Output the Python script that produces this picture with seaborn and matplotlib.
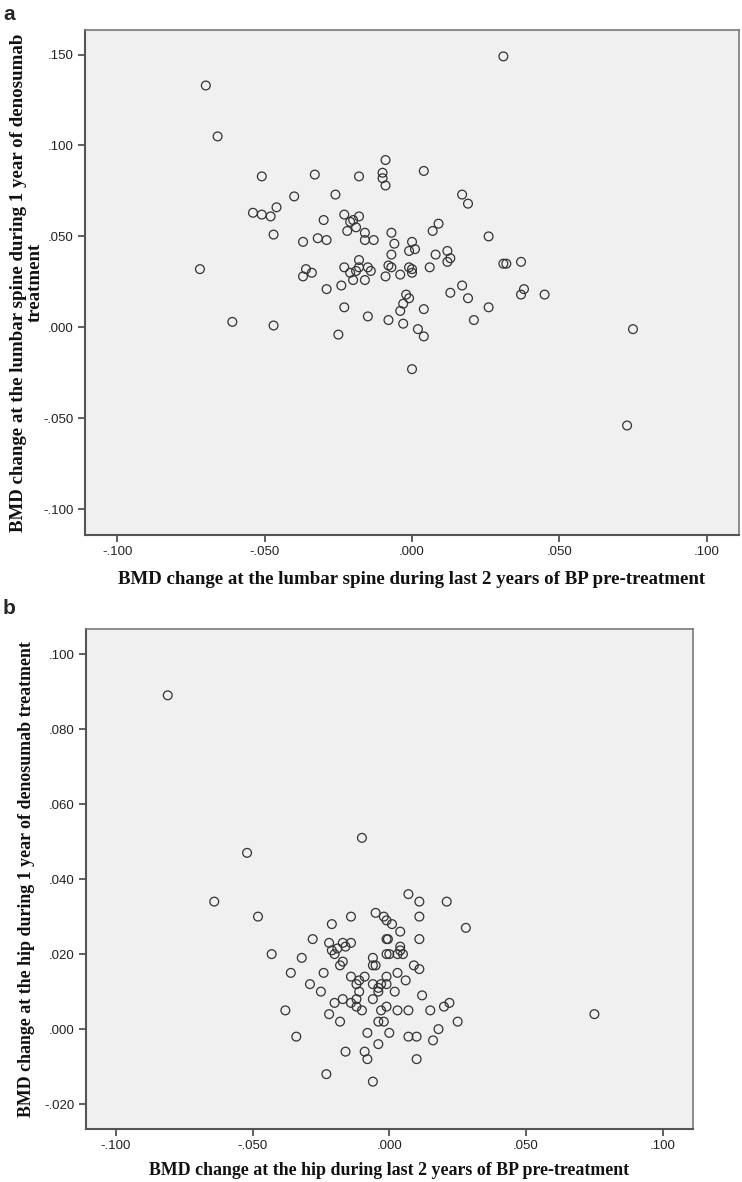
import numpy as np
import pandas as pd
import seaborn as sns
import matplotlib
matplotlib.use("Agg")
import matplotlib.pyplot as plt
from matplotlib.ticker import FuncFormatter, MultipleLocator

# panel a: lumbar spine
spine_prev = [-0.070, -0.066, 0.031, -0.051, -0.033, -0.018, -0.009, -0.010, -0.010, -0.009,
              0.004, -0.040, -0.026, 0.017, 0.019, -0.054, -0.051, -0.048, -0.046, -0.047,
              -0.030, -0.023, -0.021, -0.020, -0.018, -0.022, -0.019, -0.016, -0.016, -0.013,
              -0.037, -0.032, -0.029, -0.007, -0.006, -0.007, 0.000, -0.001, 0.001, 0.009,
              0.007, 0.026, 0.008, 0.012, 0.013, 0.012, -0.018, -0.023, -0.021, -0.019,
              -0.018, -0.015, -0.014, -0.020, -0.016, -0.008, -0.007, -0.009, -0.004, -0.001,
              0.000, 0.000, 0.006, 0.031, 0.032, 0.037, -0.072, -0.036, -0.037, -0.034,
              -0.029, -0.024, -0.002, -0.001, 0.013, 0.017, 0.019, 0.037, 0.038, 0.045,
              -0.061, -0.047, -0.023, -0.015, -0.025, -0.008, -0.003, -0.004, -0.003, 0.004,
              0.002, 0.004, 0.021, 0.026, 0.000, 0.075, 0.073]
spine_deno = [0.133, 0.105, 0.149, 0.083, 0.084, 0.083, 0.092, 0.085, 0.082, 0.078,
              0.086, 0.072, 0.073, 0.073, 0.068, 0.063, 0.062, 0.061, 0.066, 0.051,
              0.059, 0.062, 0.058, 0.059, 0.061, 0.053, 0.055, 0.052, 0.048, 0.048,
              0.047, 0.049, 0.048, 0.052, 0.046, 0.040, 0.047, 0.042, 0.043, 0.057,
              0.053, 0.050, 0.040, 0.042, 0.038, 0.036, 0.037, 0.033, 0.030, 0.031,
              0.033, 0.033, 0.031, 0.026, 0.026, 0.034, 0.033, 0.028, 0.029, 0.033,
              0.032, 0.030, 0.033, 0.035, 0.035, 0.036, 0.032, 0.032, 0.028, 0.030,
              0.021, 0.023, 0.018, 0.016, 0.019, 0.023, 0.016, 0.018, 0.021, 0.018,
              0.003, 0.001, 0.011, 0.006, -0.004, 0.004, 0.002, 0.009, 0.013, 0.010,
              -0.001, -0.005, 0.004, 0.011, -0.023, -0.001, -0.054]

# panel b: hip
hip_prev = [-0.081, -0.052, -0.010, -0.064, -0.048, -0.043, -0.038, -0.036, -0.034, -0.032,
            -0.029, -0.028, -0.025, -0.024, -0.023, -0.022, -0.022, -0.021, -0.020, -0.021,
            -0.020, -0.019, -0.018, -0.018, -0.017, -0.017, -0.017, -0.016, -0.016, -0.014,
            -0.014, -0.014, -0.014, -0.012, -0.012, -0.012, -0.011, -0.011, -0.010, -0.009,
            -0.009, -0.008, -0.008, -0.006, -0.006, -0.006, -0.005, -0.006, -0.005, -0.006,
            -0.004, -0.004, -0.003, -0.003, -0.004, -0.002, -0.004, -0.002, -0.001, -0.001,
            -0.0005, -0.001, 0.000, -0.001, -0.001, -0.001, 0.000, 0.001, 0.002, 0.003,
            0.003, 0.004, 0.004, 0.004, 0.003, 0.005, 0.007, 0.006, 0.007, 0.007,
            0.011, 0.021, 0.011, 0.028, 0.011, 0.009, 0.011, 0.012, 0.015, 0.020,
            0.022, 0.025, 0.018, 0.010, 0.016, 0.010, 0.075]
hip_deno = [0.089, 0.047, 0.051, 0.034, 0.030, 0.020, 0.005, 0.015, -0.002, 0.019,
            0.012, 0.024, 0.010, 0.015, -0.012, 0.023, 0.004, 0.028, 0.007, 0.021,
            0.020, 0.0215, 0.002, 0.017, 0.023, 0.018, 0.008, 0.022, -0.006, 0.030,
            0.023, 0.014, 0.007, 0.012, 0.008, 0.006, 0.010, 0.013, 0.005, 0.014,
            -0.006, -0.001, -0.008, 0.008, 0.012, 0.017, 0.017, 0.019, 0.031, -0.014,
            0.010, 0.011, 0.012, 0.005, 0.002, 0.002, -0.004, 0.030, 0.029, 0.024,
            0.024, 0.020, 0.020, 0.014, 0.012, 0.006, -0.001, 0.028, 0.010, 0.015,
            0.005, 0.026, 0.022, 0.021, 0.020, 0.020, 0.036, 0.013, 0.005, -0.002,
            0.034, 0.034, 0.030, 0.027, 0.024, 0.017, 0.016, 0.009, 0.005, 0.006,
            0.007, 0.002, 0.000, -0.002, -0.003, -0.008, 0.004]

df_a = pd.DataFrame({"prev": spine_prev, "deno": spine_deno})
df_b = pd.DataFrame({"prev": hip_prev, "deno": hip_deno})

sns.set_theme(style="ticks")
plt.rcParams["font.family"] = ["Liberation Sans", "DejaVu Sans"]


def spss_fmt(v, pos):
    s = f"{v:.3f}"
    if s.startswith("-0"):
        s = "-" + s[2:]
    elif s.startswith("0"):
        s = s[1:]
    if s == "-.000":
        s = ".000"
    return s


def style_axes(ax, xlim, ylim, ystep):
    ax.set_facecolor("#f0f0f0")
    ax.set_xlim(*xlim)
    ax.set_ylim(*ylim)
    ax.xaxis.set_major_locator(MultipleLocator(0.05))
    ax.yaxis.set_major_locator(MultipleLocator(ystep))
    ax.xaxis.set_major_formatter(FuncFormatter(spss_fmt))
    ax.yaxis.set_major_formatter(FuncFormatter(spss_fmt))
    for side in ["left", "bottom"]:
        ax.spines[side].set_color("#555555")
        ax.spines[side].set_linewidth(1.5)
    for side in ["top", "right"]:
        ax.spines[side].set_visible(True)
        ax.spines[side].set_color("#7a7a7a")
        ax.spines[side].set_linewidth(1.2)
    ax.tick_params(axis="both", direction="out", length=5, width=1.2,
                   color="#444444", labelsize=9.5, labelcolor="#222222", pad=3)


fig = plt.figure(figsize=(7.42, 11.82), dpi=100)

marker_kw = dict(s=40, facecolor="none", edgecolor="#333333", linewidth=0.9)
font_a = dict(family="Liberation Serif", fontweight="bold", fontsize=13.6, color="#111111")
font_b = dict(family="Liberation Serif", fontweight="bold", fontsize=12.9, color="#111111")

# panel a
ax1 = fig.add_axes([0.1146, 0.5474, 0.8814, 0.4272])
sns.scatterplot(data=df_a, x="prev", y="deno", ax=ax1, **marker_kw)
style_axes(ax1, (-0.111, 0.111), (-0.1142, 0.1635), 0.05)
ax1.set_xlabel("BMD change at the lumbar spine during last 2 years of BP pre-treatment",
               labelpad=9, **font_a)
ax1.set_ylabel("BMD change at the lumbar spine during 1 year of denosumab\ntreatment",
               labelpad=0, multialignment="center", linespacing=1.0, **font_a)

# panel b
ax2 = fig.add_axes([0.1155, 0.0446, 0.819, 0.4230])
sns.scatterplot(data=df_b, x="prev", y="deno", ax=ax2, **marker_kw)
style_axes(ax2, (-0.111, 0.1112), (-0.0267, 0.1066), 0.02)
ax2.set_xlabel("BMD change at the hip during last 2 years of BP pre-treatment",
               labelpad=7, **font_b)
ax2.set_ylabel("BMD change at the hip during 1 year of denosumab treatment",
               labelpad=7, **font_b)

fig.text(0.004, 0.988, "a", fontsize=15, fontweight="bold", ha="left", va="center")
fig.text(0.004, 0.485, "b", fontsize=15, fontweight="bold", ha="left", va="center")

fig.savefig("out.png", dpi=100, facecolor="white")
